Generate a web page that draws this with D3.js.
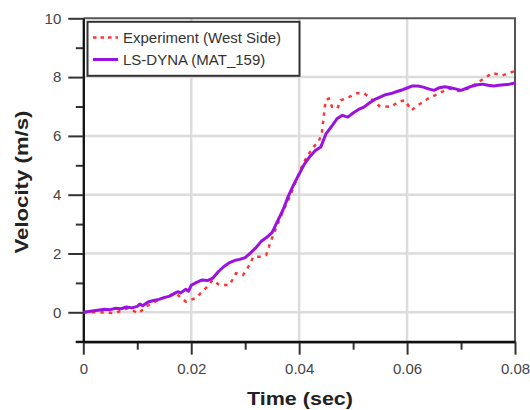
<!DOCTYPE html>
<html>
<head>
<meta charset="utf-8">
<script src="https://cdn.jsdelivr.net/npm/d3@7"></script>
<style>
  body { margin: 0; background: #fff; }
  svg { font-family: "Liberation Sans", Arial, sans-serif; }
</style>
</head>
<body>
<div id="chart"></div>
<script>
var timeSim = [0, 0.002, 0.004, 0.005, 0.006, 0.007, 0.008, 0.009, 0.010, 0.0105, 0.011, 0.012, 0.013, 0.014, 0.015,
  0.016, 0.017, 0.0175, 0.018, 0.019, 0.0195, 0.020, 0.021, 0.022, 0.023, 0.024, 0.025, 0.026, 0.027, 0.028,
  0.029, 0.030, 0.031, 0.032, 0.033, 0.034, 0.035, 0.036, 0.037, 0.038, 0.039, 0.040, 0.041, 0.042, 0.043,
  0.044, 0.045, 0.046, 0.047, 0.048, 0.049, 0.050, 0.051, 0.052, 0.053, 0.054, 0.055, 0.056, 0.057, 0.058,
  0.059, 0.060, 0.061, 0.062, 0.063, 0.064, 0.065, 0.066, 0.067, 0.068, 0.069, 0.070, 0.071, 0.072, 0.073,
  0.074, 0.075, 0.076, 0.077, 0.078, 0.079, 0.080];
var velSim = [0, 0.05, 0.10, 0.09, 0.14, 0.12, 0.18, 0.15, 0.20, 0.28, 0.22, 0.35, 0.40, 0.44, 0.50,
  0.55, 0.65, 0.70, 0.66, 0.78, 0.72, 0.92, 1.02, 1.10, 1.08, 1.16, 1.38, 1.55, 1.68, 1.76,
  1.80, 1.86, 2.02, 2.20, 2.42, 2.55, 2.72, 3.10, 3.48, 3.95, 4.35, 4.70, 5.05, 5.30, 5.50,
  5.62, 6.08, 6.32, 6.58, 6.70, 6.64, 6.78, 6.90, 6.98, 7.12, 7.24, 7.32, 7.40, 7.44, 7.50,
  7.56, 7.63, 7.70, 7.70, 7.66, 7.60, 7.55, 7.64, 7.67, 7.64, 7.60, 7.55, 7.62, 7.69, 7.74,
  7.76, 7.72, 7.70, 7.72, 7.74, 7.76, 7.80];

var timeExp = [0, 0.0033, 0.0058, 0.0083, 0.0102, 0.0121, 0.0146, 0.0171, 0.019, 0.0208, 0.0227, 0.024,
  0.0252, 0.0271, 0.0283, 0.0296, 0.0308, 0.0315, 0.0327, 0.0339, 0.0346, 0.0358, 0.0371, 0.038,
  0.039, 0.0402, 0.0414, 0.0427, 0.0436, 0.0442, 0.0449, 0.0455, 0.0461, 0.0471, 0.0477, 0.0496,
  0.0508, 0.0521, 0.0533, 0.0549, 0.0571, 0.0583, 0.0596, 0.0608, 0.062, 0.0639, 0.0658, 0.0677,
  0.0696, 0.0714, 0.0733, 0.0758, 0.0777, 0.080];
var velExp = [0, 0, -0.03, 0.14, -0.03, 0.25, 0.48, 0.65, 0.36, 0.48, 0.82, 1.10,
  0.93, 0.93, 1.33, 1.27, 1.61, 1.89, 1.89, 1.95, 2.34, 2.91, 3.48, 3.82,
  4.27, 4.84, 5.29, 5.63, 5.80, 6.09, 7.21, 7.27, 6.99, 6.93, 7.21, 7.35,
  7.46, 7.44, 7.27, 7.01, 6.99, 7.16, 7.21, 6.87, 7.04, 7.27, 7.44, 7.61,
  7.53, 7.61, 7.84, 8.14, 8.06, 8.21];

var xMajor = [0, 0.02, 0.04, 0.06, 0.08];
var xLabels = ["0", "0.02", "0.04", "0.06", "0.08"];
var xMinor = [0.01, 0.03, 0.05, 0.07];
var yMajor = [0, 2, 4, 6, 8, 10];
var yMinor = [-1, 1, 3, 5, 7, 9];
var seriesNames = ["Experiment (West Side)", "LS-DYNA (MAT_159)"];

var colorExp = "#ff3333", colorSim = "#9b12e0";

var width = 530, height = 410;
var plot = {left: 83.3, right: 515, top: 18.3, bottom: 341.7};

var x = d3.scaleLinear().domain([0, 0.08]).range([plot.left, plot.right]);
var y = d3.scaleLinear().domain([-1, 10]).range([plot.bottom, plot.top]);

var svg = d3.select("#chart").append("svg")
  .attr("width", width)
  .attr("height", height);

// grid
svg.selectAll(".hgrid")
  .data(yMajor.filter(function(d) { return d < 10; }))
  .enter().append("line")
  .attr("x1", plot.left).attr("x2", plot.right)
  .attr("y1", function(d) { return y(d); })
  .attr("y2", function(d) { return y(d); })
  .attr("stroke", "#dcdcdc").attr("stroke-width", 2.5);

svg.selectAll(".vgrid")
  .data(xMajor.filter(function(d) { return d > 0 && d < 0.08; }))
  .enter().append("line")
  .attr("x1", function(d) { return x(d); })
  .attr("x2", function(d) { return x(d); })
  .attr("y1", plot.top).attr("y2", plot.bottom)
  .attr("stroke", "#dcdcdc").attr("stroke-width", 2.5);

// frame top / right
svg.append("path")
  .attr("d", "M" + plot.left + "," + plot.top + "H" + plot.right + "V" + plot.bottom)
  .attr("fill", "none").attr("stroke", "#555").attr("stroke-width", 2);

// axes
var xAxis = d3.axisBottom(x).tickValues(xMajor)
  .tickFormat(function(d, i) { return xLabels[i]; })
  .tickSize(13).tickPadding(9).tickSizeOuter(0);
var xAxisMinor = d3.axisBottom(x).tickValues(xMinor).tickFormat("").tickSize(8).tickSizeOuter(0);
var yAxis = d3.axisLeft(y).tickValues(yMajor).tickSize(15).tickPadding(7).tickSizeOuter(0);
var yAxisMinor = d3.axisLeft(y).tickValues(yMinor).tickFormat("").tickSize(7.5).tickSizeOuter(0);

function styleAxis(g) {
  g.select(".domain").attr("stroke", "#111").attr("stroke-width", 2);
  g.selectAll(".tick line").attr("stroke", "#333").attr("stroke-width", 2);
  g.selectAll(".tick text").attr("fill", "#444")
    .style("font-size", "15px").style("font-family", "'Liberation Sans', Arial, sans-serif");
}

svg.append("g").attr("transform", "translate(0," + plot.bottom + ")").call(xAxisMinor).call(styleAxis);
svg.append("g").attr("transform", "translate(0," + plot.bottom + ")").call(xAxis).call(styleAxis);
svg.append("g").attr("transform", "translate(" + plot.left + ",0)").call(yAxisMinor).call(styleAxis);
svg.append("g").attr("transform", "translate(" + plot.left + ",0)").call(yAxis).call(styleAxis);

// x axis line reaches out to the -1 tick
svg.append("line")
  .attr("x1", plot.left - 7.5).attr("x2", plot.right)
  .attr("y1", plot.bottom).attr("y2", plot.bottom)
  .attr("stroke", "#111").attr("stroke-width", 2);

// lines
svg.append("clipPath").attr("id", "clip")
  .append("rect").attr("x", plot.left).attr("y", plot.top)
  .attr("width", plot.right - plot.left).attr("height", plot.bottom - plot.top);

var line = d3.line()
  .x(function(d) { return x(d[0]); })
  .y(function(d) { return y(d[1]); });

svg.append("path")
  .datum(d3.zip(timeExp, velExp))
  .attr("clip-path", "url(#clip)")
  .attr("fill", "none")
  .attr("stroke", colorExp)
  .attr("stroke-width", 2.5)
  .attr("stroke-dasharray", "3.5,5")
  .attr("d", line);

svg.append("path")
  .datum(d3.zip(timeSim, velSim))
  .attr("clip-path", "url(#clip)")
  .attr("fill", "none")
  .attr("stroke", colorSim)
  .attr("stroke-width", 3)
  .attr("stroke-linejoin", "round")
  .attr("d", line);

// legend
var legend = svg.append("g");
legend.append("rect")
  .attr("x", 87.5).attr("y", 21.8)
  .attr("width", 212).attr("height", 54)
  .attr("fill", "#fff").attr("stroke", "#333").attr("stroke-width", 2);

var legendRows = [
  {name: seriesNames[0], color: colorExp, dash: "3.5,4", w: 2.5, yy: 37.5},
  {name: seriesNames[1], color: colorSim, dash: null, w: 3, yy: 59.5}
];
legendRows.forEach(function(r) {
  legend.append("line")
    .attr("x1", 93).attr("x2", 118)
    .attr("y1", r.yy).attr("y2", r.yy)
    .attr("stroke", r.color).attr("stroke-width", r.w)
    .attr("stroke-dasharray", r.dash);
  legend.append("text")
    .attr("x", 123).attr("y", r.yy)
    .attr("dy", "0.36em")
    .attr("fill", "#333")
    .style("font-size", "15px")
    .text(r.name);
});

// axis titles
svg.append("text")
  .attr("x", 300).attr("y", 405)
  .attr("text-anchor", "middle")
  .attr("fill", "#222")
  .style("font-size", "18px").style("font-weight", "bold")
  .attr("textLength", 106).attr("lengthAdjust", "spacingAndGlyphs")
  .text("Time (sec)");

svg.append("text")
  .attr("transform", "translate(28,182) rotate(-90)")
  .attr("text-anchor", "middle")
  .attr("fill", "#222")
  .style("font-size", "18px").style("font-weight", "bold")
  .attr("textLength", 143).attr("lengthAdjust", "spacingAndGlyphs")
  .text("Velocity (m/s)");
</script>
</body>
</html>
